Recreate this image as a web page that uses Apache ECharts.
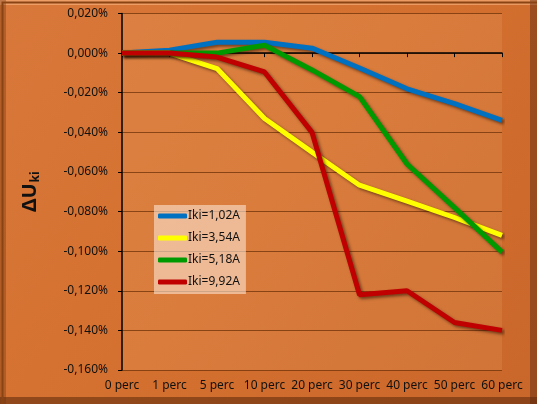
<!DOCTYPE html>
<html>
<head>
<meta charset="utf-8">
<script src="https://cdn.jsdelivr.net/npm/echarts@6/dist/echarts.min.js"></script>
<style>
  html, body { margin: 0; padding: 0; }
  #chart { width: 537px; height: 404px; }
</style>
</head>
<body>
<div id="chart"></div>
<script>
// kategóriák (x tengely)
const categories = ['0 perc', '1 perc', '5 perc', '10 perc', '20 perc', '30 perc', '40 perc', '50 perc', '60 perc'];

// ΔUki értékek, százalékban
const iki102 = [0, 0.0015, 0.0055, 0.0055, 0.0025, -0.0075, -0.018, -0.0255, -0.034];
const iki354 = [0, 0, -0.0078, -0.033, -0.050, -0.0667, -0.0747, -0.083, -0.092];
const iki518 = [0, 0, 0, 0.004, -0.0085, -0.022, -0.056, -0.078, -0.1005];
const iki992 = [0, 0, -0.002, -0.0095, -0.040, -0.122, -0.120, -0.136, -0.140];

const seriesNames = ['Iki=1,02A', 'Iki=3,54A', 'Iki=5,18A', 'Iki=9,92A'];
const seriesColors = ['#0070C0', '#FFFF00', '#009A00', '#C00000'];

const chart = echarts.init(document.getElementById('chart'));

function makeLine(i, data) {
  return {
    name: seriesNames[i],
    type: 'line',
    data: data,
    symbol: 'none',
    lineStyle: {
      width: 5,
      color: seriesColors[i],
      shadowColor: 'rgba(40,15,0,0.55)',
      shadowBlur: 3,
      shadowOffsetX: 2,
      shadowOffsetY: 2
    },
    itemStyle: { color: seriesColors[i] }
  };
}

const option = {
  animation: false,
  backgroundColor: {
    type: 'linear', x: 0, y: 0, x2: 1, y2: 1,
    colorStops: [
      { offset: 0, color: '#d8783a' },
      { offset: 0.5, color: '#d4702f' },
      { offset: 1, color: '#c9662a' }
    ]
  },
  graphic: [
    // keret
    { type: 'rect', left: 0, top: 0, shape: { width: 537, height: 404 }, style: { fill: 'none', stroke: '#8a4414', lineWidth: 2 }, z: 100 },
    { type: 'rect', left: 0, top: 0, shape: { width: 537, height: 5 }, style: { fill: 'rgba(255,190,140,0.55)' }, z: 99 },
    { type: 'rect', left: 0, top: 397, shape: { width: 537, height: 7 }, style: { fill: 'rgba(90,40,10,0.55)' }, z: 99 },
    { type: 'rect', left: 530, top: 0, shape: { width: 7, height: 404 }, style: { fill: 'rgba(90,40,10,0.45)' }, z: 99 },
    { type: 'rect', left: 0, top: 0, shape: { width: 6, height: 404 }, style: { fill: 'rgba(110,50,15,0.35)' }, z: 99 }
  ],
  grid: {
    left: 122,
    right: 35,
    top: 13.5,
    bottom: 34,
    show: true,
    backgroundColor: 'rgba(255,210,160,0.12)',
    borderWidth: 0
  },
  legend: {
    orient: 'vertical',
    left: 154,
    top: 205,
    padding: [5, 6, 6, 4],
    itemGap: 10,
    itemWidth: 29,
    itemHeight: 5,
    icon: 'roundRect',
    backgroundColor: 'rgba(250,225,205,0.62)',
    textStyle: { color: '#111', fontSize: 12, fontFamily: 'Noto Sans', padding: [0, 0, 0, -4] },
    data: seriesNames
  },
  xAxis: {
    type: 'category',
    data: categories,
    boundaryGap: false,
    axisLine: { lineStyle: { color: '#000', width: 1.5 } },
    axisTick: { length: 4, interval: 0, lineStyle: { color: '#000' } },
    axisLabel: { color: '#111', fontSize: 12, fontFamily: 'Noto Sans', margin: 10, interval: 0, hideOverlap: false },
    splitLine: { show: false }
  },
  yAxis: {
    type: 'value',
    min: -0.16,
    max: 0.02,
    interval: 0.02,
    name: '{a|ΔU}{b|ki}',
    nameLocation: 'middle',
    nameRotate: 90,
    nameGap: 80,
    nameTextStyle: {
      rich: {
        a: { fontSize: 20, fontWeight: 'bold', fontFamily: 'Noto Sans', color: '#111', lineHeight: 24 },
        b: { fontSize: 12, fontWeight: 'bold', fontFamily: 'Noto Sans', color: '#111', verticalAlign: 'bottom', lineHeight: 24, padding: [10, 0, 0, 1] }
      }
    },
    axisLine: { show: true, lineStyle: { color: '#000', width: 1.5 } },
    axisTick: { show: true, length: 4, lineStyle: { color: '#000' } },
    axisLabel: {
      color: '#111',
      fontSize: 12,
      fontFamily: 'Noto Sans',
      margin: 14,
      formatter: v => (Math.abs(v) < 1e-9 ? 0 : v).toFixed(3).replace('.', ',') + '%'
    },
    splitLine: { lineStyle: { color: 'rgba(110,50,10,0.75)', width: 1 } }
  },
  series: [
    makeLine(0, iki102),
    makeLine(1, iki354),
    makeLine(2, iki518),
    makeLine(3, iki992)
  ]
};

chart.setOption(option);
</script>
</body>
</html>
